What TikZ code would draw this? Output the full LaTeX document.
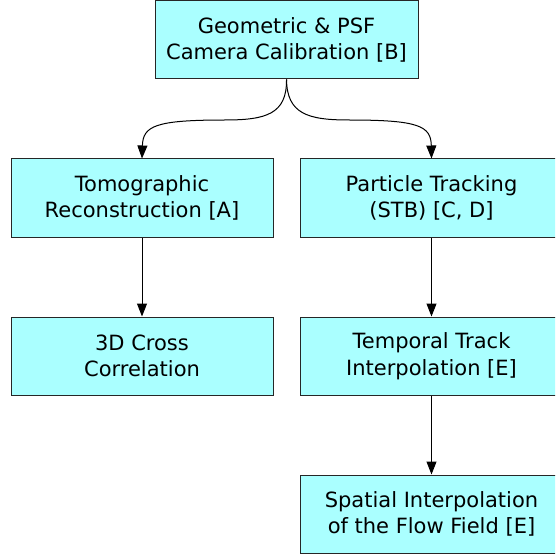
\documentclass[tikz,border=0pt]{standalone}
\usepackage{fontspec}
\setmainfont{DejaVu Sans}
\usetikzlibrary{arrows.meta}
\definecolor{boxfill}{RGB}{170,255,255}
\tikzset{
  stage/.style={draw=black!85, line width=1pt, fill=boxfill, inner sep=0pt,
    minimum width=263pt, minimum height=78pt, align=center,
    font=\fontsize{21}{26.5}\selectfont},
  flow/.style={draw=black, line width=1pt, -{Triangle[length=13pt,width=10pt]}}
}
\begin{document}
\begin{tikzpicture}[x=1pt,y=-1pt]
\useasboundingbox (0,0) rectangle (555,556);
\begin{scope}
\clip (0,0) rectangle (555,556);
\node[stage] (calib) at (286.5,40) {Geometric \& PSF\\Camera Calibration [B]};
\node[stage, minimum width=262pt] (tomo) at (142,198) {Tomographic\\Reconstruction [A]};
\node[stage] (ptrack) at (431.5,198) {Particle Tracking\\(STB) [C, D]};
\node[stage, minimum width=262pt] (xcorr) at (142,356) {3D Cross\\Correlation};
\node[stage] (tinterp) at (431.5,356) {Temporal Track\\Interpolation [E]};
\node[stage] (sinterp) at (431.5,514) {Spatial Interpolation\\of the Flow Field [E]};
\end{scope}
\draw[flow] (calib.south) .. controls (287,114) and (266,120) .. (225,120)
  .. controls (155,120) and (143,126) .. (tomo.north);
\draw[flow] (calib.south) .. controls (287,114) and (308,120) .. (349,120)
  .. controls (419,120) and (431,126) .. (ptrack.north);
\draw[flow] (tomo) -- (xcorr);
\draw[flow] (ptrack) -- (tinterp);
\draw[flow] (tinterp) -- (sinterp);
\end{tikzpicture}
\end{document}
